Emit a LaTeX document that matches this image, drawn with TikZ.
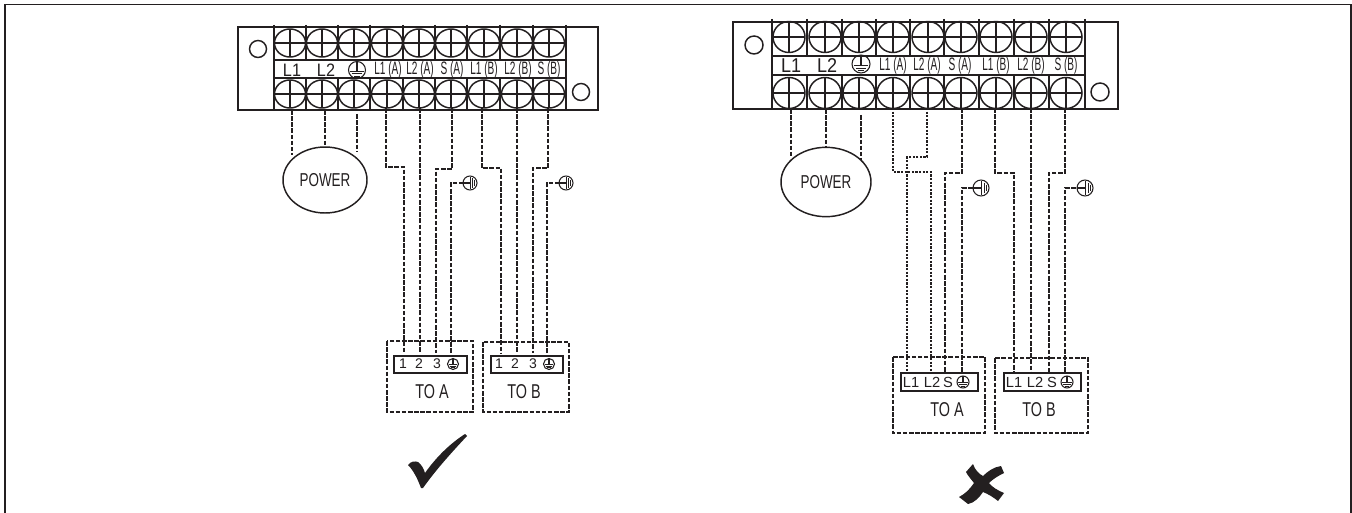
\documentclass[tikz,border=0pt]{standalone}
\usetikzlibrary{shapes.geometric}
\usepackage{fontspec}
\setmainfont{Liberation Sans}
\newfontfamily\narrowf[FakeStretch=0.72]{Liberation Sans}
\newfontfamily\tightf[FakeStretch=0.56]{Liberation Sans}
\newfontfamily\midf[FakeStretch=0.9]{Liberation Sans}
\definecolor{ink}{HTML}{231F20}
\tikzset{
 blockline/.style={draw=ink,line width=1.1pt},
 wirea/.style={draw=ink,line width=1.5pt,dash pattern=on 3.4pt off 1.2pt},
 wireb/.style={draw=ink,line width=1.2pt,dash pattern=on 1.7pt off 1pt},
 bx/.style={draw=ink,line width=1.5pt,dash pattern=on 3.4pt off 1.2pt},
 lab/.style={inner sep=0pt,text=ink,font=\fontsize{13.5}{13.5}\tightf},
 bigl/.style={inner sep=0pt,text=ink,font=\fontsize{13.5}{13.5}\midf},
 term/.style={inner sep=0pt,text=ink,font=\fontsize{10.5}{10.5}\selectfont},
 termb/.style={inner sep=0pt,text=ink,font=\fontsize{11}{11}\selectfont},
 title/.style={inner sep=0pt,text=ink,font=\fontsize{15}{15}\narrowf},
 powerbub/.style={draw=ink,line width=1.1pt,ellipse,inner sep=0pt,text=ink,font=\fontsize{14}{14}\narrowf},
}
\newcommand{\screw}[4]{%
 \draw[blockline] (#1,#2) ellipse [x radius=#3,y radius=#4];
 \draw[blockline,line width=.9pt] (#1-#3,#2) -- (#1+#3,#2) (#1,#2-#4) -- (#1,#2+#4);}
\newcommand{\earthup}[3]{%
 \draw[ink,line width=.8pt] (#1,#2) circle [radius=#3];
 \draw[ink,line width=.8pt] (#1,#2-#3) -- (#1,#2+.15*#3)
  (#1-.8*#3,#2+.15*#3) -- (#1+.8*#3,#2+.15*#3)
  (#1-.6*#3,#2+.45*#3) -- (#1+.6*#3,#2+.45*#3)
  (#1-.35*#3,#2+.72*#3) -- (#1+.35*#3,#2+.72*#3);}
\newcommand{\earthside}[3]{%
 \draw[ink,line width=.8pt] (#1,#2) circle [radius=#3];
 \draw[ink,line width=.8pt] (#1-#3,#2) -- (#1+.1*#3,#2)
  (#1+.1*#3,#2-.85*#3) -- (#1+.1*#3,#2+.85*#3)
  (#1+.42*#3,#2-.65*#3) -- (#1+.42*#3,#2+.65*#3)
  (#1+.7*#3,#2-.4*#3) -- (#1+.7*#3,#2+.4*#3);}
\begin{document}
\begin{tikzpicture}[x=.75pt,y=-.75pt]
\useasboundingbox (0,0) rectangle (1352,513);
\fill[white] (0,0) rectangle (1352,513);
\draw[ink,line width=1pt] (5,515) -- (5,4.5) -- (1351,4.5) -- (1351,515);
%% LEFT BLOCK
\draw[blockline] (238,27) rectangle (598,110);
\draw[blockline] (274,60) rectangle (566,78);
\foreach \x in {274,306,338,370,403,435,467,500,533,566} {
 \draw[blockline] (\x,25) -- (\x,60) (\x,78) -- (\x,110);}
\foreach \x in {290,322,354,387,419,451,484,517,549} {
 \screw{\x}{43}{15.5}{14}
 \screw{\x}{94}{15.5}{14}}
\draw[blockline] (258,49) circle [radius=8.5];
\draw[blockline] (581,92) circle [radius=8.5];
\node[bigl] (la) at (292,70) {L1};
\node[bigl] (lb) at (326,70) {L2};
\earthup{357}{70}{8.5}
\node[lab] at (388,70) {L1 (A)};
\node[lab] at (420,70) {L2 (A)};
\node[lab] at (452,70) {S (A)};
\node[lab] at (484,70) {L1 (B)};
\node[lab] at (518,70) {L2 (B)};
\node[lab] at (549,70) {S (B)};
\node[powerbub,minimum width=63pt,minimum height=49.5pt] (powera) at (325,180) {POWER};
\draw[wirea] (292,110) -- (292,155);
\draw[wirea] (325,110) -- (325,147);
\draw[wirea] (357,114) -- (357,152);
\draw[wirea] (386,108) -- (386,167) -- (404,167) -- (404,353);
\draw[wirea] (420,108) -- (420,353);
\draw[wirea] (452,108) -- (452,169) -- (436,169) -- (436,353);
\draw[wirea] (451,353) -- (451,183) -- (463,183);
\earthside{470}{183}{7}
\draw[wirea] (482,108) -- (482,168) -- (501,168) -- (501,353);
\draw[wirea] (517,108) -- (517,353);
\draw[wirea] (548,108) -- (548,168) -- (533,168) -- (533,353);
\draw[wirea] (547,353) -- (547,183) -- (559,183);
\earthside{566}{183}{7}
\draw[bx] (387,341) rectangle (473,412);
\draw[bx] (483,342) rectangle (569,412);
\draw[blockline] (394,356) rectangle (467,373);
\draw[blockline] (491,356) rectangle (563,373);
\node[term] at (403,364) {1};
\node[term] at (419,364) {2};
\node[term] at (437,364) {3};
\earthup{453}{364}{5.5}
\node[term] at (499,364) {1};
\node[term] at (515,364) {2};
\node[term] at (533,364) {3};
\earthup{549}{364}{5.5}
\node[title] at (432,392) {TO A};
\node[title] at (524,392) {TO B};
\fill[ink] (408,465) .. controls (411,461) and (415,461) .. (418,462)
 .. controls (421,464) and (424,469) .. (425,473)
 .. controls (437,456) and (451,443) .. (465,434)
 -- (467,436)
 .. controls (451,453) and (435,471) .. (423,488)
 -- (421,488)
 .. controls (418,480) and (414,471) .. (408,465) -- cycle;
%% RIGHT BLOCK
\draw[blockline] (733,22) rectangle (1118,109);
\draw[blockline] (772,56) rectangle (1085,75);
\foreach \x in {772,807,842,876,910,944,979,1014,1049,1085} {
 \draw[blockline] (\x,19) -- (\x,56) (\x,75) -- (\x,109);}
\foreach \x in {789,825,859,893,928,961,996,1031,1066} {
 \screw{\x}{37}{16}{15.5}
 \screw{\x}{93}{16}{15.5}}
\draw[blockline] (754,45) circle [radius=9];
\draw[blockline] (1100,92) circle [radius=9];
\node[bigl,font=\fontsize{15}{15}\midf] (lc) at (791,66) {L1};
\node[bigl,font=\fontsize{15}{15}\midf] (ld) at (827,66) {L2};
\earthup{861}{64}{9}
\node[lab] at (893,66) {L1 (A)};
\node[lab] at (927,66) {L2 (A)};
\node[lab] at (960,66) {S (A)};
\node[lab] at (996,66) {L1 (B)};
\node[lab] at (1031,66) {L2 (B)};
\node[lab] at (1066,66) {S (B)};
\node[powerbub,minimum width=67.5pt,minimum height=52pt] (powerb) at (826,182) {POWER};
\draw[wirea] (791,109) -- (791,158);
\draw[wirea] (826,109) -- (826,148);
\draw[wirea] (861,115) -- (861,160);
\draw[wireb] (893,108) -- (893,172) -- (931,172) -- (931,372);
\draw[wireb] (927,108) -- (927,157) -- (907,157) -- (907,372);
\draw[wirea] (962,108) -- (962,173) -- (945,173) -- (945,372);
\draw[wirea] (962,372) -- (962,188) -- (973,188);
\earthside{981}{188}{8}
\draw[wirea] (995,108) -- (995,173) -- (1014,173) -- (1014,372);
\draw[wirea] (1031,108) -- (1031,372);
\draw[wirea] (1065,108) -- (1065,173) -- (1049,173) -- (1049,372);
\draw[wirea] (1065,372) -- (1065,188) -- (1078,188);
\earthside{1085}{188}{8}
\draw[bx] (893,357) rectangle (985,433);
\draw[bx] (995,358) rectangle (1088,433);
\draw[blockline] (901,373) rectangle (978,391);
\draw[blockline] (1004,373) rectangle (1081,391);
\node[termb] at (911,382) {L1};
\node[termb] at (932,382) {L2};
\node[termb] at (948,382) {S};
\earthup{963}{382}{6}
\node[termb] at (1014,382) {L1};
\node[termb] at (1035,382) {L2};
\node[termb] at (1052,382) {S};
\earthup{1067}{382}{6}
\node[title] at (947,410) {TO A};
\node[title] at (1039,410) {TO B};
\fill[ink] (973,464) .. controls (975,470) and (979,474) .. (983,476)
 .. controls (988,471) and (994,467) .. (1001,466)
 -- (1004,473)
 .. controls (998,476) and (993,479) .. (989,483)
 .. controls (992,487) and (997,490) .. (1004,493)
 -- (998,501)
 .. controls (993,497) and (988,494) .. (983,492)
 .. controls (979,498) and (974,503) .. (968,504)
 -- (959,497)
 .. controls (965,494) and (970,489) .. (974,483)
 .. controls (971,479) and (968,476) .. (966,472)
 -- cycle;
\end{tikzpicture}
\end{document}
